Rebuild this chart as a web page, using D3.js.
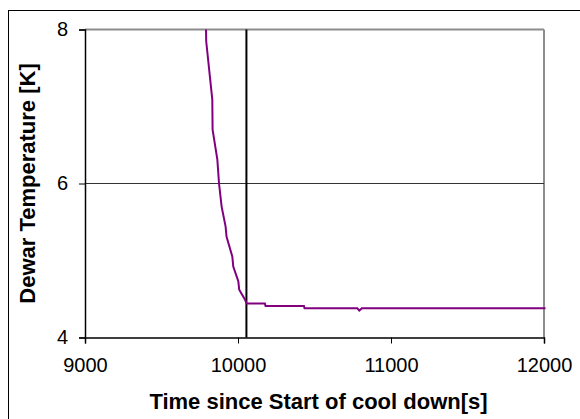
<!DOCTYPE html>
<html>
<head>
<meta charset="utf-8">
<script src="https://cdn.jsdelivr.net/npm/d3@7.9.0/dist/d3.min.js"></script>
<style>
  html, body { margin: 0; padding: 0; background: #fff; }
  svg { display: block; }
</style>
</head>
<body>
<div id="chart"></div>
<script>
// Cool down curve: time [s] and dewar temperature [K]
const times = [9791, 9792, 9832, 9834, 9865, 9876, 9893, 9919, 9925, 9963, 9969, 10002, 10008, 10046, 10057,
  10176, 10180, 10431, 10435, 10780, 10793, 10810, 12010];
const temps = [8.0, 7.85, 7.09, 6.70, 6.31, 6.00, 5.70, 5.44, 5.31, 5.05, 4.92, 4.73, 4.62, 4.49, 4.44,
  4.44, 4.41, 4.41, 4.38, 4.38, 4.35, 4.38, 4.38];

// Vertical marker line
const markerTimes = [10055, 10055];
const markerTemps = [4, 8];

const xTicks = [9000, 10000, 11000, 12000];
const yTicks = [4, 6, 8];
const xDomain = [9000, 12000];
const yDomain = [4, 8];

const width = 580;
const height = 419;
const margin = { top: 29.5, right: 36, bottom: 81.5, left: 85 };
const innerW = width - margin.left - margin.right;
const innerH = height - margin.top - margin.bottom;

const svg = d3.select('#chart')
  .append('svg')
  .attr('width', width)
  .attr('height', height);

// outer frame
svg.append('rect')
  .attr('x', 8.5)
  .attr('y', 10.5)
  .attr('width', 700)
  .attr('height', 600)
  .attr('fill', 'none')
  .attr('stroke', '#000')
  .attr('stroke-width', 1);

const g = svg.append('g')
  .attr('transform', `translate(${margin.left},${margin.top})`);

const x = d3.scaleLinear().domain(xDomain).range([0, innerW]);
const y = d3.scaleLinear().domain(yDomain).range([innerH, 0]);

// plot area border (top / right in gray)
g.append('line')
  .attr('x1', 0).attr('x2', innerW)
  .attr('y1', y(8)).attr('y2', y(8))
  .attr('stroke', '#8c8c8c').attr('stroke-width', 2);
g.append('line')
  .attr('x1', innerW).attr('x2', innerW)
  .attr('y1', 0).attr('y2', innerH)
  .attr('stroke', '#8c8c8c').attr('stroke-width', 2);

// horizontal gridlines
g.append('g')
  .selectAll('line')
  .data(yTicks.filter((d) => d > 4 && d < 8))
  .enter()
  .append('line')
  .attr('x1', 0).attr('x2', innerW)
  .attr('y1', (d) => y(d)).attr('y2', (d) => y(d))
  .attr('stroke', '#333')
  .attr('stroke-width', 1.2);

// axes
const xAxis = d3.axisBottom(x).tickValues(xTicks).tickFormat(d3.format('d')).tickSizeOuter(0).tickSize(6).tickPadding(14);
const yAxis = d3.axisLeft(y).tickValues(yTicks).tickFormat(d3.format('d')).tickSizeOuter(0).tickSize(6).tickPadding(11);

const gx = g.append('g')
  .attr('transform', `translate(0,${innerH})`)
  .call(xAxis);
const gy = g.append('g').call(yAxis);

[gx, gy].forEach((a) => {
  a.selectAll('.domain').attr('stroke', '#000').attr('stroke-width', 1.5);
  a.selectAll('.tick line').attr('stroke', '#000');
  a.selectAll('text')
    .attr('fill', '#000')
    .style('font-family', 'Liberation Sans, Arial, sans-serif')
    .style('font-size', '20px');
});

// marker line
const pts = (xs, ys) => xs.map((d, i) => [d, ys[i]]);
const line = d3.line().x((d) => x(d[0])).y((d) => y(d[1]));

g.append('path')
  .datum(pts(markerTimes, markerTemps))
  .attr('d', line)
  .attr('fill', 'none')
  .attr('stroke', '#000')
  .attr('stroke-width', 2);

// temperature curve
g.append('path')
  .datum(pts(times, temps))
  .attr('d', line)
  .attr('fill', 'none')
  .attr('stroke', '#800080')
  .attr('stroke-width', 2);

// axis titles
svg.append('text')
  .attr('x', margin.left + innerW / 2 + 4)
  .attr('y', 409)
  .attr('text-anchor', 'middle')
  .style('font-family', 'Liberation Sans, Arial, sans-serif')
  .style('font-size', '22px')
  .style('font-weight', 'bold')
  .text('Time since Start of cool down[s]');

svg.append('text')
  .attr('transform', `translate(35,${margin.top + innerH / 2}) rotate(-90)`)
  .attr('text-anchor', 'middle')
  .style('font-family', 'Liberation Sans, Arial, sans-serif')
  .style('font-size', '22px')
  .style('font-weight', 'bold')
  .text('Dewar Temperature [K]');
</script>
</body>
</html>
